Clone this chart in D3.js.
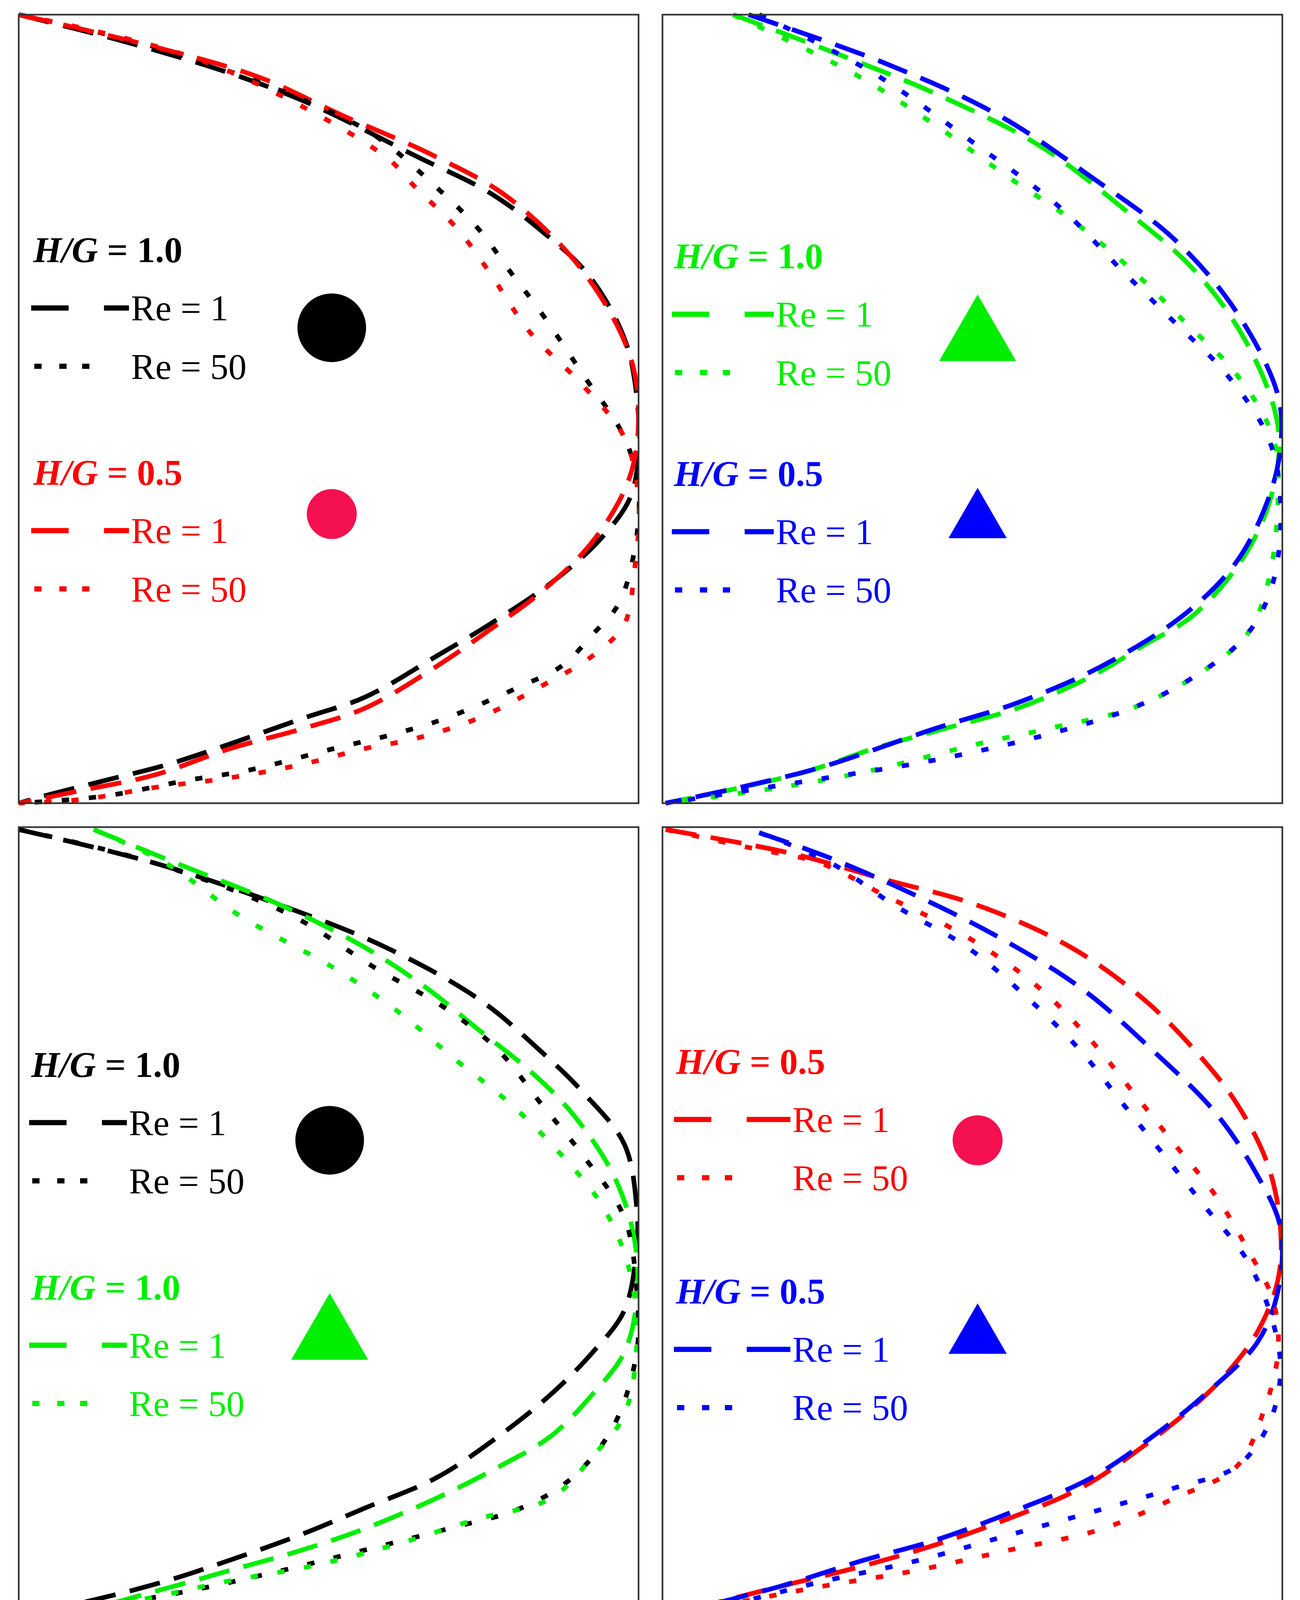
<!DOCTYPE html>
<html lang="en">
<head>
<meta charset="UTF-8" />
<title>Velocity profiles</title>
<style>
  html, body { margin: 0; padding: 0; background: #fff; overflow: hidden; }
  svg { display: block; }
  text { font-family: "Liberation Serif", "DejaVu Serif", serif; }
</style>
</head>
<body>
<svg id="chart"></svg>
<script src="https://d3js.org/d3.v7.min.js"></script>
<script>
// velocity profiles, u in % of centreline value, y in % of channel depth (0 = top)
const tl_blackDash_u = [0,17,34,47,64,76,84,92,98,100,100,98.5,93.5,86,76,67.5,56,46,34,24,14,4,0];
const tl_blackDash_y = [0,3.4,7.4,11.3,17.9,22.6,27.2,33.1,41.7,50.9,56.2,61.5,66.8,72,77.3,81.3,86.5,89.2,92.5,95.1,97.1,99.1,100];
const tl_redDash_u = [0,22,39,52,67,79,91,98.5,100,98.5,92.6,84,76,67.5,56,46,34,22,10,0];
const tl_redDash_y = [0,4.1,8,12.7,17.9,23.2,32.5,43,50.9,58.8,66.8,73.4,78,82.6,87.9,90.5,93.1,96.4,98.4,100];
const tl_blackDot_u = [0,22,45.6,57.4,67.4,74.2,79.2,84.2,91,97.7,100,99.3,96.8,92.6,87.6,80.9,69,60.7,50.7,37.2,27.2,13.8,0];
const tl_blackDot_y = [0,4.1,10.7,15.3,21.9,27.2,32.5,37.7,45.6,53.6,60.2,68.1,74.7,78.6,82.6,85.2,89.2,91.2,93.1,95.8,97.1,99.1,100];
const tl_redDot_u = [0,30.5,59,64,70.8,75.8,82.6,91,97.7,100,99.3,97.7,92.6,84.2,74.2,64,55.7,45.6,33.9,22,10.4,0];
const tl_redDot_y = [0,6.1,17.9,21.9,27.2,32.5,40.4,47,53.6,61.5,70.7,77.3,81.3,85.2,89.2,91.8,93.1,95.1,96.8,98,99.5,100];

const tr_greenDash_u = [11.4,27.3,44,60.8,74.2,85.9,94.3,99.3,98.5,94.3,85.9,77.6,69.2,57.5,45.7,34,24,13.9,0.5];
const tr_greenDash_y = [0,4.7,10,16.6,24.5,32.5,41.7,52.2,60.2,68.1,76,80,83.9,87.9,90.5,93.1,95.8,97.8,100];
const tr_blueDash_u = [13.9,35.7,54.1,69.2,82.6,92.6,99.3,99.7,97.7,92.6,84.3,70.9,57.5,44.1,24,0.5];
const tr_blueDash_y = [0,6.1,12.7,20.6,28.5,37.7,48.3,54.9,61.5,69.4,76,82.6,87.2,90.5,95.8,100];
const tr_greenDot_u = [11.4,30.7,44,55.8,65.8,75.9,84.3,92.6,98.5,99.3,97.7,94.3,85.9,75.9,62.5,50.8,34,20.6,0.5];
const tr_greenDot_y = [0,7.4,14,20.6,25.9,32.5,39,45.6,53.6,61.5,72,78.6,83.9,87.9,90.5,92.5,95.8,97.8,100];
const tr_blueDot_u = [15.6,34,50.8,64.2,74.2,82.6,91,97.7,99.7,98.5,94.3,85.9,75.9,62.5,44.1,24,0.5];
const tr_blueDot_y = [0,7.4,16.6,24.5,32.5,39,45.6,53.6,61.5,72,78.6,83.9,87.9,91.2,94.5,97.1,100];

const bl_blackDash_u = [0,22.1,42.3,59.1,74.2,84.2,91,97.7,99.7,99.7,97.7,92.6,85.9,77.5,67.4,55.7,45.6,33.9,23.8,12.1,0];
const bl_blackDash_y = [0.3,4.6,9.9,15.2,21.8,28.4,33.6,40.2,48.2,53.4,61.3,66.6,71.9,77.2,82.5,86.4,89.7,93,95.6,98,100];
const bl_greenDash_u = [12.1,25.5,42.3,55.7,65.8,74.2,82.6,89.3,96,99.3,99.7,97.7,92.6,85.9,77.5,67.4,55.7,45.6,33.9,22.1,12.1,0];
const bl_greenDash_y = [0.3,4.6,9.9,15.2,20.4,25.7,31,36.3,44.2,52.1,60,66.6,71.9,77.2,81.1,85.1,89,91.7,94.3,96.9,98.9,100];
const bl_blackDot_u = [0,22.1,44,57.4,69.1,77.5,84.2,91,97.7,99.7,99.7,96,89.3,80.9,69.1,55.7,42.3,27.2,12.1,0];
const bl_blackDot_y = [0.3,4.6,11.2,17.8,23.1,28.4,35,41.6,49.5,58.8,66.6,75.9,82.5,86.4,89,91.7,94.3,96.9,98.9,100];
const bl_greenDot_u = [12.1,23.8,35.6,50.7,60.7,70.8,79.2,87.6,94.3,98.5,99.7,97.7,92.6,85.9,74.2,60.7,47.3,33.9,22.1,10.4,0];
const bl_greenDot_y = [0.3,4.6,11.2,17.8,23.1,29.7,35,41.6,48.2,56.1,65.3,74.5,79.8,85.1,87.7,91,93.7,95.6,97.6,99.3,100];

const br_redDash_u = [0.5,20.6,35.7,50.8,65.8,77.6,86,92.6,97.7,99.7,99.3,96,91,86,77.6,67.5,55.8,44.1,32.3,18.9,8.9,0.5];
const br_redDash_y = [0.3,3.3,6.6,9.9,15.2,21.8,28.4,35,42.9,50.8,57.4,64,69.3,73.2,78.5,83.8,87.7,91,93.7,96.3,98.3,100];
const br_blueDash_u = [15.6,27.3,40.7,54.1,67.5,79.2,89.3,96,99.7,99.3,96,87.6,79.2,69.2,57.5,44.1,32.3,18.9,0.5];
const br_blueDash_y = [0.7,4,8.6,13.9,20.4,28.4,36.3,44.2,50.8,58.8,65.3,71.9,77.2,82.5,86.5,90.4,93,96.3,100];
const br_redDot_u = [0.5,14,25.6,35.7,49.1,60.8,69.2,75.9,82.6,89.3,94.3,98.5,99.3,96.8,92.6,82.6,70.9,55.8,40.7,25.6,12.2,0.5];
const br_redDot_y = [0.3,2.6,4.6,8.6,13.9,20.4,27.1,33.6,40.2,46.8,53.4,60,66.6,74.5,81.1,85.1,89,91.7,94.3,96.3,98.3,100];
const br_blueDot_u = [15.6,27.3,37.4,49.1,59.1,67.5,74.2,80.9,87.6,94.3,98.5,99.7,97.7,92.6,82.6,70.9,55.8,40.7,25.6,12.2,0.5];
const br_blueDot_y = [0.7,4.6,9.9,15.2,21.8,28.4,35,41.6,48.2,54.9,62.8,69.3,75.9,81.1,83.8,86.5,89.8,93.1,95.7,98.3,100];

const BLACK = "#000000", RED = "#ff0000", GREEN = "#00ee00", BLUE = "#0000ff", PINK = "#f5104f";

const svg = d3.select("#chart")
  .attr("width", 3329).attr("height", 4179)
  .attr("viewBox", "0 0 1250 1569");

const panels = [
  { x0: 18, y0: 14, curves: [
      [tl_blackDash_u, tl_blackDash_y, BLACK, "dash"], [tl_redDash_u, tl_redDash_y, RED, "dash"],
      [tl_blackDot_u, tl_blackDot_y, BLACK, "dot"], [tl_redDot_u, tl_redDot_y, RED, "dot"]],
    legend: { x: 32, tx: 126, groups: [
      { title: "1.0", color: BLACK, y: 240, marker: "circle", mc: BLACK, my: 315, mr: 33 },
      { title: "0.5", color: RED, y: 454, marker: "circle", mc: PINK, my: 494, mr: 24 }], mx: 319 } },
  { x0: 637, y0: 14, curves: [
      [tr_greenDash_u, tr_greenDash_y, GREEN, "dash"], [tr_blueDash_u, tr_blueDash_y, BLUE, "dash"],
      [tr_greenDot_u, tr_greenDot_y, GREEN, "dot"], [tr_blueDot_u, tr_blueDot_y, BLUE, "dot"]],
    legend: { x: 648, tx: 746, groups: [
      { title: "1.0", color: GREEN, y: 246, marker: "tri", mc: GREEN, my: 315, mr: 37 },
      { title: "0.5", color: BLUE, y: 455, marker: "tri", mc: BLUE, my: 493, mr: 28 }], mx: 940 } },
  { x0: 18, y0: 795, curves: [
      [bl_blackDash_u, bl_blackDash_y, BLACK, "dash"], [bl_greenDash_u, bl_greenDash_y, GREEN, "dash"],
      [bl_blackDot_u, bl_blackDot_y, BLACK, "dot"], [bl_greenDot_u, bl_greenDot_y, GREEN, "dot"]],
    legend: { x: 30, tx: 124, groups: [
      { title: "1.0", color: BLACK, y: 1023, marker: "circle", mc: BLACK, my: 1096, mr: 33 },
      { title: "1.0", color: GREEN, y: 1237, marker: "tri", mc: GREEN, my: 1275, mr: 37 }], mx: 317 } },
  { x0: 637, y0: 795, curves: [
      [br_redDash_u, br_redDash_y, RED, "dash"], [br_blueDash_u, br_blueDash_y, BLUE, "dash"],
      [br_redDot_u, br_redDot_y, RED, "dot"], [br_blueDot_u, br_blueDot_y, BLUE, "dot"]],
    legend: { x: 650, tx: 762, groups: [
      { title: "0.5", color: RED, y: 1020, marker: "circle", mc: PINK, my: 1096, mr: 24 },
      { title: "0.5", color: BLUE, y: 1241, marker: "tri", mc: BLUE, my: 1277, mr: 28 }], mx: 940 } }
];

const PW = 596, PH = 758;
const dashes = { dash: "30,14", dot: "7,19" };

panels.forEach(p => {
  const x = d3.scaleLinear().domain([0, 100]).range([p.x0, p.x0 + PW]);
  const y = d3.scaleLinear().domain([0, 100]).range([p.y0, p.y0 + PH]);
  const g = svg.append("g");
  const clipId = "clip" + p.x0 + "_" + p.y0;
  g.append("clipPath").attr("id", clipId).append("rect")
    .attr("x", p.x0).attr("y", p.y0 - 2).attr("width", PW).attr("height", PH + 4);

  const line = d3.line().x(d => x(d[0])).y(d => y(d[1])).curve(d3.curveCatmullRom);
  p.curves.forEach(([u, yy, c, type]) => {
    g.append("path")
      .attr("clip-path", `url(#${clipId})`)
      .attr("d", line(u.map((v, i) => [v, yy[i]])))
      .attr("fill", "none").attr("stroke", c).attr("stroke-width", 4.5)
      .attr("stroke-dasharray", dashes[type]);
  });

  g.append("rect").attr("x", p.x0).attr("y", p.y0).attr("width", PW).attr("height", PH)
    .attr("fill", "none").attr("stroke", "#333").attr("stroke-width", 1.6);

  const L = p.legend;
  L.groups.forEach(gr => {
    const t = g.append("text").attr("x", L.x).attr("y", gr.y + 12)
      .attr("font-size", 35).attr("font-weight", "bold").attr("fill", gr.color);
    t.append("tspan").attr("font-style", "italic").text("H/G");
    t.append("tspan").text(" = " + gr.title);

    const r1 = gr.y + 56, r2 = gr.y + 112;
    g.append("line").attr("x1", L.x - 2).attr("x2", L.x + 34).attr("y1", r1).attr("y2", r1)
      .attr("stroke", gr.color).attr("stroke-width", 5);
    g.append("line").attr("x1", L.x + 68).attr("x2", L.tx - 2).attr("y1", r1).attr("y2", r1)
      .attr("stroke", gr.color).attr("stroke-width", 5);
    [4, 28, 50].forEach(dx => g.append("line")
      .attr("x1", L.x + dx - 3).attr("x2", L.x + dx + 4).attr("y1", r2).attr("y2", r2)
      .attr("stroke", gr.color).attr("stroke-width", 5));
    g.append("text").attr("x", L.tx).attr("y", r1 + 12).attr("font-size", 35)
      .attr("fill", gr.color).text("Re = 1");
    g.append("text").attr("x", L.tx).attr("y", r2 + 12).attr("font-size", 35)
      .attr("fill", gr.color).text("Re = 50");

    if (gr.marker === "circle") {
      g.append("circle").attr("cx", L.mx).attr("cy", gr.my).attr("r", gr.mr).attr("fill", gr.mc);
    } else {
      const w = gr.mr, h = gr.mr * 1.73;
      g.append("path")
        .attr("d", `M${L.mx},${gr.my - h / 2}L${L.mx + w},${gr.my + h / 2}L${L.mx - w},${gr.my + h / 2}Z`)
        .attr("fill", gr.mc);
    }
  });
});
</script>
</body>
</html>
